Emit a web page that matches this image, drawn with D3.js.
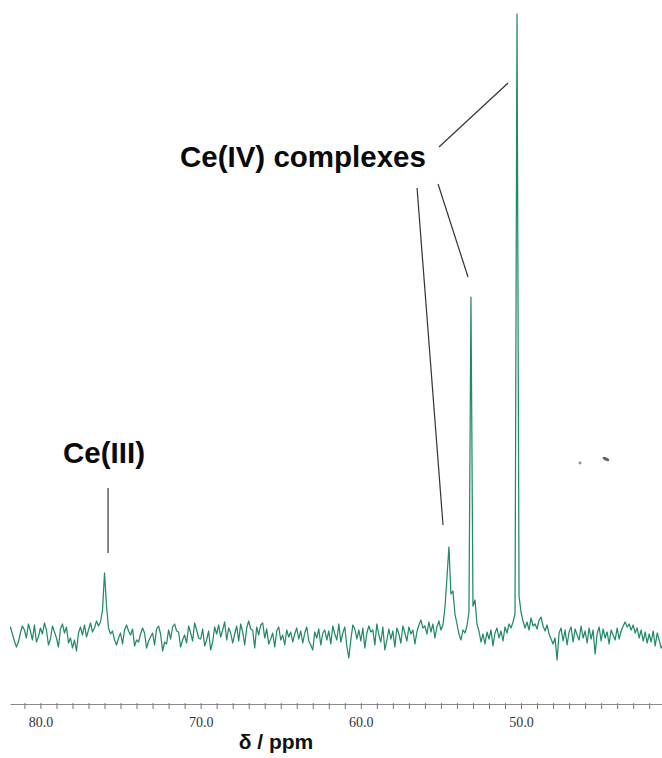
<!DOCTYPE html>
<html>
<head>
<meta charset="utf-8">
<script src="https://cdn.jsdelivr.net/npm/d3@7"></script>
<style>
  body { margin: 0; background: #ffffff; }
  svg { display: block; }
</style>
</head>
<body>
<svg id="chart" width="662" height="758"></svg>
<script>
// 13C NMR spectrum: chemical shift axis (ppm) sampled on a uniform grid
const ppmStart = 82.0;
const ppmStep = 0.125;

// Signal intensity at each grid point (ppmStart - i * ppmStep), baseline = 0
const intensity = [
  4, 9, 2, -5, -11, -6, 3, 10, 6, -2, 12, 5, -4, 11, -6, -1,
  8, 2, 13, 6, -9, -3, 10, 4, -2, -11, 7, 12, 3, 9, -7, -2,
  -12, -4, -15, 3, 9, 1, 11, -1, 6, 13, 4, 8, 15, 10, 14, 26,
  63, 30, 8, 2, 5, -4, -9, -2, 3, -8, 6, 11, 5, 1, 7, -10,
  -4, -6, 2, 8, 3, -12, -5, -1, 3, -9, 7, 10, 2, -15, -6, -8,
  6, -3, 9, 12, 5, 4, -11, -4, 1, -7, 10, 3, -5, 13, 6, -2,
  -3, 7, -10, -4, 5, -14, -6, 9, 2, 11, -1, 6, 14, -4, 8, 3,
  -7, 2, 10, -5, 12, 4, -9, 8, 15, 7, 6, -12, 9, 1, 11, 13,
  -2, 7, -8, -3, 3, -11, 5, 9, -4, 1, -9, 6, -1, 4, -6, 2,
  8, -3, 5, -7, 3, 9, -5, -9, -14, 4, -2, 7, -9, 3, 6, -4,
  5, -8, 10, 2, -4, 12, -6, 3, 9, -10, -22, -4, 11, 7, -3, 6,
  -5, 8, -12, 3, 10, 4, 6, -9, 12, 1, -6, 9, -14, -4, 7, -3,
  5, -11, 8, 2, -7, 10, 3, -5, 9, 2, 6, -8, 4, 11, 16, 8,
  10, 2, 14, 4, 12, -2, 9, 15, 6, 11, 28, 58, 89, 42, 45, 22,
  12, 2, -4, 6, 3, 10, 24, 339, 30, 36, 12, 5, -6, 2, -8, 4,
  -3, 6, -10, 3, 8, -2, 5, -5, 9, 3, 12, 8, 14, 22, 622, 40,
  24, 15, 8, 14, 6, 18, 10, 12, 7, 16, 19, 10, 5, 11, 2, -3,
  -8, -2, -24, 3, 8, -5, 6, -9, 4, 9, -6, 7, 1, -4, 10, -2,
  5, -7, 8, -3, 6, -18, 2, 9, -5, 7, -2, 4, -8, 6, 1, -4,
  8, -3, 5, 10, 14, 9, 12, 6, 11, 3, 8, -2, 6, -5, 4, -7,
  2, -6, 5, -10, 3, -4, -12, -8
];

// Axis ticks (ppm); labelled every 10 ppm
const minorTicks = [42, 43, 44, 45, 46, 47, 48, 49, 50, 51, 52, 53, 54, 55, 56, 57, 58, 59, 60, 61,
                    62, 63, 64, 65, 66, 67, 68, 69, 70, 71, 72, 73, 74, 75, 76, 77, 78, 79, 80, 81];
const majorTicks = [80, 70, 60, 50];
const axisTitle = "δ / ppm";

// Peak assignments: label anchors and leader lines in (ppm, intensity)
const labelText = ["Ce(III)", "Ce(IV) complexes"];
const labelPpm = [78.59, 71.29];
const labelValue = [173, 469];

const leaderFromPpm = [75.78, 55.12, 56.49, 55.18];
const leaderFromValue = [148, 489, 448, 452];
const leaderToPpm = [75.78, 50.81, 54.87, 53.31];
const leaderToValue = [83, 553, 111, 359];

// Small specks on the plot area
const speckPpm = [46.32, 44.70];
const speckValue = [173, 177];

const svg = d3.select("#chart");

const x = d3.scaleLinear().domain([81.9, 41.2]).range([10, 662]);
const y = d3.scaleLinear().domain([0, 622]).range([636, 14]);

const spectrum = intensity.map((v, i) => ({ ppm: ppmStart - i * ppmStep, v }));

svg.append("defs").append("clipPath").attr("id", "plot-clip")
  .append("rect").attr("x", 10).attr("y", 0).attr("width", 652).attr("height", 700);

// Spectrum trace
svg.append("path")
  .datum(spectrum)
  .attr("clip-path", "url(#plot-clip)")
  .attr("fill", "none")
  .attr("stroke", "#22896a")
  .attr("stroke-width", 1.25)
  .attr("stroke-linejoin", "round")
  .attr("d", d3.line().x(d => x(d.ppm)).y(d => y(d.v)));

// Chemical shift axis
const axis = d3.axisBottom(x)
  .tickValues(minorTicks)
  .tickSize(5)
  .tickSizeOuter(0)
  .tickPadding(8)
  .tickFormat(d => majorTicks.includes(d) ? d.toFixed(1) : "");

const gAxis = svg.append("g")
  .attr("transform", "translate(0,704)")
  .call(axis);

gAxis.select(".domain").attr("stroke", "#8a8a8a").attr("stroke-width", 1);
gAxis.selectAll(".tick line").attr("stroke", "#777").attr("y1", -1);
gAxis.selectAll(".tick text")
  .attr("fill", "#333")
  .style("font-family", "'Liberation Serif', 'Times New Roman', serif")
  .style("font-size", "14px");

svg.append("text")
  .attr("x", 276)
  .attr("y", 749)
  .attr("text-anchor", "middle")
  .style("font-family", "'Liberation Sans', Arial, sans-serif")
  .style("font-weight", "bold")
  .style("font-size", "21px")
  .attr("fill", "#111")
  .text(axisTitle);

// Leader lines
svg.append("g").selectAll("line")
  .data(leaderFromPpm.map((p, i) => i))
  .join("line")
  .attr("x1", i => x(leaderFromPpm[i]))
  .attr("y1", i => y(leaderFromValue[i]))
  .attr("x2", i => x(leaderToPpm[i]))
  .attr("y2", i => y(leaderToValue[i]))
  .attr("stroke", "#333")
  .attr("stroke-width", 1.2);

// Assignment labels
svg.append("g").selectAll("text")
  .data(labelText.map((t, i) => i))
  .join("text")
  .attr("x", i => x(labelPpm[i]))
  .attr("y", i => y(labelValue[i]))
  .style("font-family", "'Liberation Sans', Arial, sans-serif")
  .style("font-weight", "bold")
  .style("font-size", "29.5px")
  .attr("fill", "#0a0a0a")
  .text(i => labelText[i]);

// Specks
svg.append("g").selectAll("ellipse")
  .data(speckPpm.map((p, i) => i))
  .join("ellipse")
  .attr("cx", i => x(speckPpm[i]))
  .attr("cy", i => y(speckValue[i]))
  .attr("rx", i => i === 0 ? 1.6 : 3.6)
  .attr("ry", i => i === 0 ? 1.4 : 1.6)
  .attr("transform", i => i === 0 ? null : `rotate(25,${x(speckPpm[i])},${y(speckValue[i])})`)
  .attr("fill", i => i === 0 ? "#999" : "#666");
</script>
</body>
</html>
